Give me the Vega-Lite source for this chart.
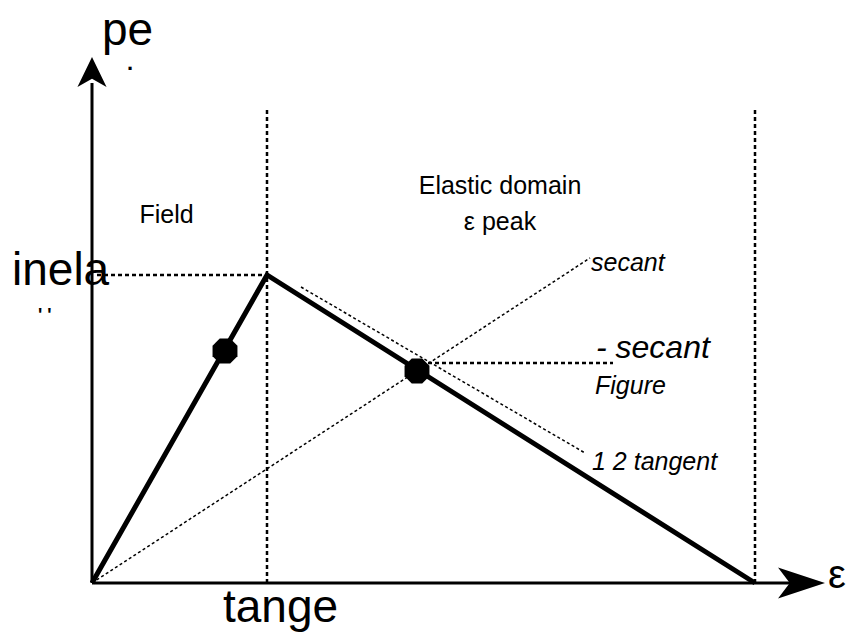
{
  "$schema": "https://vega.github.io/schema/vega-lite/v6.json",
  "width": 848,
  "height": 632,
  "autosize": {"type": "none"},
  "padding": 0,
  "background": "white",
  "config": {"view": {"stroke": null}, "text": {"font": "Liberation Sans", "color": "black"}},
  "datasets": {
    "lines": [
      {"g": "curve", "id": "c", "o": 1, "x": 0, "y": 0},
      {"g": "curve", "id": "c", "o": 2, "x": 175, "y": 308},
      {"g": "curve", "id": "c", "o": 3, "x": 663, "y": 0},
      {"g": "axis", "id": "ay", "o": 1, "x": 0, "y": 0},
      {"g": "axis", "id": "ay", "o": 2, "x": 0, "y": 500},
      {"g": "axis", "id": "ax", "o": 1, "x": 0, "y": 0},
      {"g": "axis", "id": "ax", "o": 2, "x": 700, "y": 0},
      {"g": "heavy", "id": "v1", "o": 1, "x": 175, "y": 0},
      {"g": "heavy", "id": "v1", "o": 2, "x": 175, "y": 475},
      {"g": "heavy", "id": "v2", "o": 1, "x": 663, "y": 0},
      {"g": "heavy", "id": "v2", "o": 2, "x": 663, "y": 475},
      {"g": "heavy", "id": "h1", "o": 1, "x": 5, "y": 308},
      {"g": "heavy", "id": "h1", "o": 2, "x": 175, "y": 308},
      {"g": "heavy", "id": "h2", "o": 1, "x": 336, "y": 220},
      {"g": "heavy", "id": "h2", "o": 2, "x": 521, "y": 220},
      {"g": "thin", "id": "sec", "o": 1, "x": 0, "y": 0},
      {"g": "thin", "id": "sec", "o": 2, "x": 498, "y": 325},
      {"g": "thin", "id": "tan", "o": 1, "x": 209, "y": 296},
      {"g": "thin", "id": "tan", "o": 2, "x": 493, "y": 130}
    ],
    "markers": [
      {"x": 133, "y": 232},
      {"x": 325, "y": 212}
    ],
    "arrowUp": [{"x": 0, "y": 511}],
    "arrowRight": [{"x": 709.5, "y": 0}],
    "bigText": [
      {"t": "pe", "x": 10, "y": 538},
      {"t": "inela", "x": -80, "y": 298},
      {"t": "tange", "x": 131, "y": -39}
    ],
    "epsText": [{"t": "ε", "x": 736, "y": -5}],
    "dotText": [{"t": ".", "x": 38, "y": 513}],
    "tinyText": [{"t": "' '", "x": -54, "y": 262}],
    "labelText": [
      {"t": "Field", "x": 74.5, "y": 360},
      {"t": "Elastic domain", "x": 408, "y": 389},
      {"t": "ε peak", "x": 408, "y": 353}
    ],
    "italicText": [
      {"t": "secant", "x": 499, "y": 312},
      {"t": "Figure", "x": 503, "y": 189},
      {"t": "1 2 tangent", "x": 500, "y": 113}
    ],
    "italicBig": [{"t": "- secant", "x": 504, "y": 225}]
  },
  "encoding": {
    "x": {"field": "x", "type": "quantitative", "scale": {"domain": [-92, 756], "nice": false, "zero": false}, "axis": null},
    "y": {"field": "y", "type": "quantitative", "scale": {"domain": [-49, 583], "nice": false, "zero": false}, "axis": null}
  },
  "layer": [
    {
      "data": {"name": "lines"},
      "transform": [{"filter": "datum.g === 'thin'"}],
      "mark": {"type": "line", "color": "black", "strokeWidth": 1.5, "strokeDash": [3, 2.5]},
      "encoding": {"detail": {"field": "id"}, "order": {"field": "o", "type": "quantitative"}}
    },
    {
      "data": {"name": "lines"},
      "transform": [{"filter": "datum.g === 'heavy'"}],
      "mark": {"type": "line", "color": "black", "strokeWidth": 2.5, "strokeDash": [4, 3]},
      "encoding": {"detail": {"field": "id"}, "order": {"field": "o", "type": "quantitative"}}
    },
    {
      "data": {"name": "lines"},
      "transform": [{"filter": "datum.g === 'axis'"}],
      "mark": {"type": "line", "color": "black", "strokeWidth": 3},
      "encoding": {"detail": {"field": "id"}, "order": {"field": "o", "type": "quantitative"}}
    },
    {
      "data": {"name": "lines"},
      "transform": [{"filter": "datum.g === 'curve'"}],
      "mark": {"type": "line", "color": "black", "strokeWidth": 5, "strokeJoin": "miter"},
      "encoding": {"detail": {"field": "id"}, "order": {"field": "o", "type": "quantitative"}}
    },
    {
      "data": {"name": "markers"},
      "mark": {"type": "point", "filled": true, "color": "black", "opacity": 1, "size": 620, "shape": "M-0.42,-1L0.42,-1L1,-0.42L1,0.42L0.42,1L-0.42,1L-1,0.42L-1,-0.42Z"}
    },
    {
      "data": {"name": "arrowUp"},
      "mark": {"type": "point", "filled": true, "color": "black", "opacity": 1, "size": 900, "shape": "M0,-1L0.97,1L0,0.45L-0.97,1Z"}
    },
    {
      "data": {"name": "arrowRight"},
      "mark": {"type": "point", "filled": true, "color": "black", "opacity": 1, "size": 2209, "shape": "M1,0L-1,0.66L-0.5,0L-1,-0.66Z"}
    },
    {
      "data": {"name": "bigText"},
      "mark": {"type": "text", "fontSize": 46, "align": "left", "baseline": "alphabetic"},
      "encoding": {"text": {"field": "t"}}
    },
    {
      "data": {"name": "epsText"},
      "mark": {"type": "text", "fontSize": 40, "align": "left", "baseline": "alphabetic"},
      "encoding": {"text": {"field": "t"}}
    },
    {
      "data": {"name": "dotText"},
      "mark": {"type": "text", "fontSize": 22, "fontWeight": "bold", "align": "center", "baseline": "alphabetic"},
      "encoding": {"text": {"field": "t"}}
    },
    {
      "data": {"name": "tinyText"},
      "mark": {"type": "text", "fontSize": 18, "align": "left", "baseline": "alphabetic", "fontWeight": "bold"},
      "encoding": {"text": {"field": "t"}}
    },
    {
      "data": {"name": "labelText"},
      "mark": {"type": "text", "fontSize": 25, "align": "center", "baseline": "alphabetic"},
      "encoding": {"text": {"field": "t"}}
    },
    {
      "data": {"name": "italicText"},
      "mark": {"type": "text", "fontSize": 25, "fontStyle": "italic", "align": "left", "baseline": "alphabetic"},
      "encoding": {"text": {"field": "t"}}
    },
    {
      "data": {"name": "italicBig"},
      "mark": {"type": "text", "fontSize": 32, "fontStyle": "italic", "align": "left", "baseline": "alphabetic"},
      "encoding": {"text": {"field": "t"}}
    }
  ]
}
